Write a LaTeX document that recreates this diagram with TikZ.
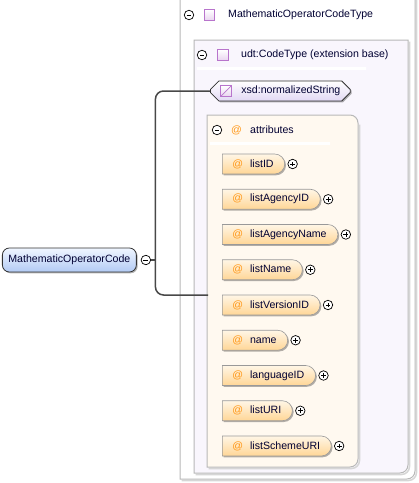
\documentclass[tikz,border=0pt]{standalone}
\usepackage{fontspec}
\setmainfont{Liberation Sans}
\usepackage{xcolor}
\definecolor{boxgray}{RGB}{184,184,184}
\definecolor{shadegray}{RGB}{214,214,214}
\definecolor{lavender}{RGB}{249,246,253}
\definecolor{cream}{RGB}{255,249,240}
\definecolor{navytext}{RGB}{0,0,50}
\definecolor{atorange}{RGB}{255,152,24}
\definecolor{iconpurple}{RGB}{184,116,204}
\definecolor{conngray}{RGB}{72,72,72}
\definecolor{attrtop}{RGB}{255,246,230}
\definecolor{attrbot}{RGB}{255,214,150}
\definecolor{roottop}{RGB}{240,246,255}
\definecolor{rootbot}{RGB}{178,202,244}
\definecolor{xsdbot}{RGB}{226,216,244}
\usetikzlibrary{positioning,shapes.misc,shadows}

\begin{document}
\begin{tikzpicture}[x=1pt,y=-1pt,
  txt/.style={font=\fontsize{10.6}{12}\selectfont, text=navytext, inner sep=0pt},
  btn/.style={circle, draw=black, fill=white, line width=0.7pt, minimum size=9.5pt, inner sep=0pt},
  btnminus/.style={btn, path picture={
      \draw[line width=0.7pt] ([xshift=-2.4pt]path picture bounding box.center)
        -- ([xshift=2.4pt]path picture bounding box.center);}},
  btnplus/.style={btn, path picture={
      \draw[line width=0.7pt] ([xshift=-2.4pt]path picture bounding box.center)
        -- ([xshift=2.4pt]path picture bounding box.center);
      \draw[line width=0.7pt] ([yshift=-2.4pt]path picture bounding box.center)
        -- ([yshift=2.4pt]path picture bounding box.center);}},
  typeicon/.style={rectangle, draw=iconpurple, line width=0.8pt, top color=white,
      bottom color=iconpurple!30, minimum size=10.5pt, inner sep=0pt},
  simpleicon/.style={typeicon, path picture={
      \draw[iconpurple, line width=0.7pt] (path picture bounding box.south west)
        -- (path picture bounding box.north east);}},
  attr/.style={txt, rounded rectangle, rounded rectangle west arc=none,
      draw=black!40, line width=0.6pt, top color=attrtop, bottom color=attrbot,
      minimum height=20pt, inner xsep=10pt,
      drop shadow={shadow xshift=1.3pt, shadow yshift=-1.3pt, fill=black, opacity=0.3}},
  rootel/.style={txt, rectangle, rounded corners=7pt, draw=black!80, line width=0.8pt,
      top color=roottop, bottom color=rootbot, minimum height=24pt, inner xsep=6pt,
      drop shadow={shadow xshift=1.3pt, shadow yshift=-1.3pt, fill=black, opacity=0.3}},
  simpletype/.style={txt, chamfered rectangle, chamfered rectangle xsep=5pt,
      draw=black!80, line width=0.8pt, top color=white, bottom color=xsdbot,
      minimum height=20pt, inner xsep=5pt,
      drop shadow={shadow xshift=1.3pt, shadow yshift=-1.3pt, fill=black, opacity=0.3}},
  conn/.style={draw=conngray, line width=1.5pt, rounded corners=8pt},
  sep/.style={left color=white, middle color=black!20, right color=white}]
  \useasboundingbox (0,0) rectangle (419,483);

  % complex type box
  \path[draw=shadegray, line width=1.5pt, shift={(1.5,1.5)}]
    (415,-5) -- (415,471) arc[start angle=0, end angle=-90, radius=8pt] -- (180,479);
  \path[draw=boxgray, fill=white, line width=1pt]
    (180,-5) -- (415,-5) -- (415,471) arc[start angle=0, end angle=-90, radius=8pt]
    -- (180,479) -- cycle;
  \node[btnminus] (tglct) at (189,15) {};
  \node[typeicon] (icct) at (209.5,15) {};
  \node[txt, anchor=west] (ct) at (228,15) {MathematicOperatorCodeType};
  \shade[sep] (183,27.5) rectangle (362,29.5);

  % extension base box
  \path[draw=shadegray, line width=1.5pt, shift={(1.5,1.5)}]
    (408,40) -- (408,465) arc[start angle=0, end angle=-90, radius=8pt] -- (194,473);
  \path[draw=boxgray, fill=lavender, line width=1pt]
    (194,40) -- (408,40) -- (408,465) arc[start angle=0, end angle=-90, radius=8pt]
    -- (194,473) -- cycle;
  \node[btnminus] (tglbase) at (202,55) {};
  \node[typeicon] (icbase) at (223,55) {};
  \node[txt, anchor=west] (base) at (241,55) {udt:CodeType (extension base)};
  \shade[sep] (197,67.5) rectangle (366,69.5);

  % attributes box
  \path[draw=shadegray, line width=1.5pt, shift={(1.5,1.5)}]
    (358,123) -- (358,459) arc[start angle=0, end angle=-90, radius=8pt] -- (207,467);
  \path[draw=boxgray, fill=cream, line width=1pt]
    (207,115) -- (350,115) arc[start angle=90, end angle=0, radius=8pt]
    -- (358,459) arc[start angle=0, end angle=-90, radius=8pt] -- (207,467) -- cycle;
  \node[btnminus] (tglattr) at (217,130) {};
  \node[txt, text=atorange, anchor=west] (atattr) at (231,130) {@};
  \node[txt, anchor=west] (attrs) at (250,130) {attributes};
  \shade[sep] (210,142.5) rectangle (330,144.5);

  % root element and its connectors
  \node[rootel, anchor=west] (root) at (2,260) {MathematicOperatorCode};
  \node[btnminus, right=4pt of root] (tglroot) {};
  \node[simpletype, anchor=west] (xsd) at (210,91) {\hspace*{21pt}xsd:normalizedString};
  \node[simpleicon] (icxsd) at ([xshift=16pt]xsd.west) {};
  \coordinate (attin) at (208,295);
  \path[conn] (tglroot.east) -- ++(4.5,0) coordinate (fork);
  \path[conn] (xsd.west) -| (fork) |- (attin);

  % attributes
  \node[attr, anchor=west] (lid) at (222,164) {{\color{atorange}@}\hspace{7pt}listID\hspace{3pt}};
  \node[btnplus, right=2.5pt of lid] {};
  \node[attr, anchor=west] (lagid) at (222,199.25) {{\color{atorange}@}\hspace{7pt}listAgencyID\hspace{3pt}};
  \node[btnplus, right=2.5pt of lagid] {};
  \node[attr, anchor=west] (lagname) at (222,234.5) {{\color{atorange}@}\hspace{7pt}listAgencyName\hspace{3pt}};
  \node[btnplus, right=2.5pt of lagname] {};
  \node[attr, anchor=west] (lname) at (222,269.75) {{\color{atorange}@}\hspace{7pt}listName\hspace{3pt}};
  \node[btnplus, right=2.5pt of lname] {};
  \node[attr, anchor=west] (lver) at (222,305) {{\color{atorange}@}\hspace{7pt}listVersionID\hspace{3pt}};
  \node[btnplus, right=2.5pt of lver] {};
  \node[attr, anchor=west] (nm) at (222,340.25) {{\color{atorange}@}\hspace{7pt}name\hspace{3pt}};
  \node[btnplus, right=2.5pt of nm] {};
  \node[attr, anchor=west] (lang) at (222,375.5) {{\color{atorange}@}\hspace{7pt}languageID\hspace{3pt}};
  \node[btnplus, right=2.5pt of lang] {};
  \node[attr, anchor=west] (luri) at (222,410.75) {{\color{atorange}@}\hspace{7pt}listURI\hspace{3pt}};
  \node[btnplus, right=2.5pt of luri] {};
  \node[attr, anchor=west] (lsch) at (222,446) {{\color{atorange}@}\hspace{7pt}listSchemeURI\hspace{3pt}};
  \node[btnplus, right=2.5pt of lsch] {};
\end{tikzpicture}
\end{document}
